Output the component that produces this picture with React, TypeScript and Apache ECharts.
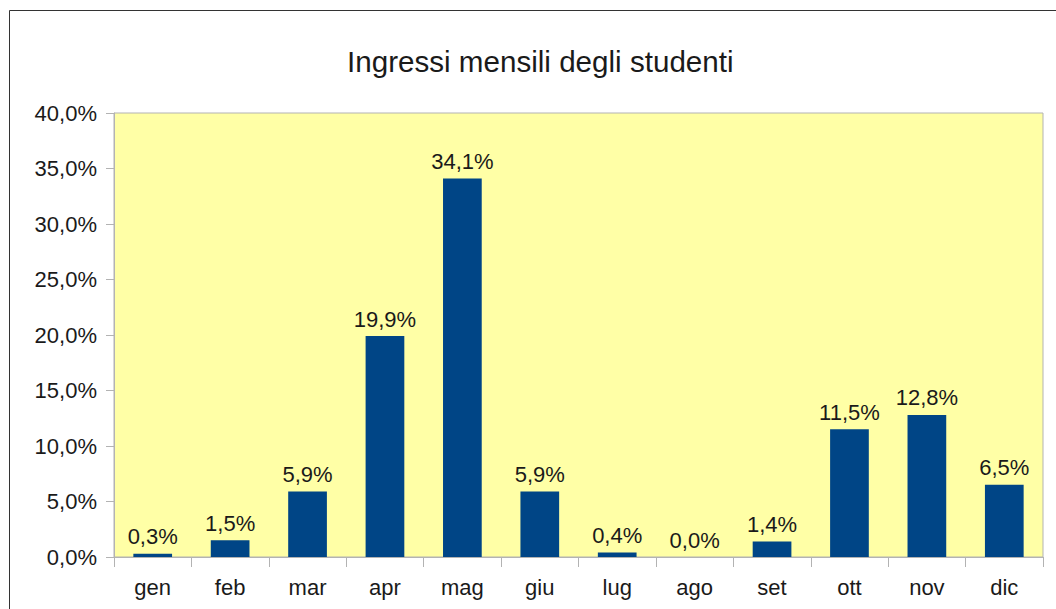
import React, { useEffect, useRef } from "react";
import * as echarts from "echarts";

const categories = ["gen", "feb", "mar", "apr", "mag", "giu", "lug", "ago", "set", "ott", "nov", "dic"];
const values = [0.3, 1.5, 5.9, 19.9, 34.1, 5.9, 0.4, 0.0, 1.4, 11.5, 12.8, 6.5];
const titleText = "Ingressi mensili degli studenti";

const fmt = (v: number) => v.toFixed(1).replace(".", ",") + "%";

export default function App() {
  const ref = useRef<HTMLDivElement>(null);
  useEffect(() => {
    const chart = echarts.init(ref.current!, null, { renderer: "svg" });
    const font = "'Liberation Sans', Arial, sans-serif";
    chart.setOption({
      animation: false,
      backgroundColor: "#ffffff",
      textStyle: { fontFamily: font },
      title: {
        text: titleText,
        left: 342,
        top: 41,
        textStyle: { fontFamily: font, fontSize: 29.6, fontWeight: "normal", color: "#1a1a1a" },
      },
      graphic: [
        {
          type: "rect",
          shape: { x: 9.5, y: 10.5, width: 1056, height: 620 },
          style: { fill: "none", stroke: "#333333", lineWidth: 1 },
          silent: true,
        },
      ],
      grid: {
        left: 114,
        top: 113,
        right: 13,
        bottom: 52,
        show: true,
        backgroundColor: "#ffffa6",
        borderColor: "#b3b3b3",
        borderWidth: 1,
      },
      xAxis: {
        type: "category",
        data: categories,
        axisLine: { show: true, lineStyle: { color: "#b3b3b3" } },
        axisTick: { show: true, alignWithLabel: false, length: 10, lineStyle: { color: "#b3b3b3" } },
        axisLabel: { margin: 19, fontSize: 22, color: "#1a1a1a", fontFamily: font },
      },
      yAxis: {
        type: "value",
        min: 0,
        max: 40,
        interval: 5,
        axisLine: { show: true, lineStyle: { color: "#b3b3b3" } },
        axisTick: { show: true, length: 8, lineStyle: { color: "#b3b3b3" } },
        splitLine: { show: false },
        axisLabel: { margin: 17, fontSize: 22, color: "#1a1a1a", fontFamily: font, formatter: (v: number) => fmt(v) },
      },
      series: [
        {
          type: "bar",
          data: values,
          barWidth: "50%",
          itemStyle: { color: "#004586" },
          label: {
            show: true,
            position: "top",
            distance: 6,
            fontSize: 22,
            color: "#1a1a1a",
            fontFamily: font,
            formatter: (p: any) => fmt(p.value),
          },
        },
      ],
    });
    return () => chart.dispose();
  }, []);
  return <div ref={ref} style={{ position: "fixed", left: 0, top: 0, width: 1056, height: 609 }} />;
}
